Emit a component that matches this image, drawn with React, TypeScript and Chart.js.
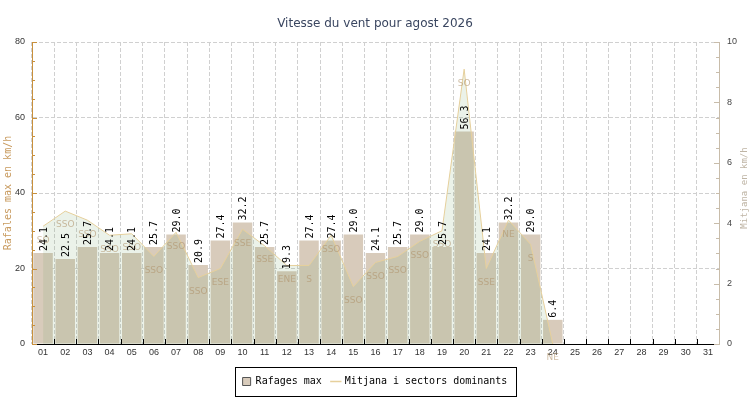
import React, { useEffect, useRef } from 'react';
import { Chart, registerables } from 'chart.js';

Chart.register(...registerables);

const titleText = 'Vitesse du vent pour agost 2026';
const gustLabel = 'Rafages max';
const meanLabel = 'Mitjana i sectors dominants';
const leftAxisTitle = 'Rafales max en km/h';
const rightAxisTitle = 'Mitjana en km/h';

const days = [
  '01', '02', '03', '04', '05', '06', '07', '08', '09', '10',
  '11', '12', '13', '14', '15', '16', '17', '18', '19', '20',
  '21', '22', '23', '24', '25', '26', '27', '28', '29', '30', '31',
];

const gustValues: (number | null)[] = [
  24.1, 22.5, 25.7, 24.1, 24.1, 25.7, 29.0, 20.9, 27.4, 32.2,
  25.7, 19.3, 27.4, 27.4, 29.0, 24.1, 25.7, 29.0, 25.7, 56.3,
  24.1, 32.2, 29.0, 6.4, null, null, null, null, null, null, null,
];

const meanValues: (number | null)[] = [
  3.9, 4.4, 4.1, 3.6, 3.65, 2.9, 3.7, 2.2, 2.5, 3.8,
  3.25, 2.6, 2.6, 3.6, 1.9, 2.7, 2.9, 3.4, 3.75, 9.1,
  2.5, 4.1, 3.3, 0, null, null, null, null, null, null, null,
];

const directions: (string | null)[] = [
  'SO', 'SSO', 'SSO', 'SSO', 'SSO', 'SSO', 'SSO', 'SSO', 'ESE', 'SSE',
  'SSE', 'ENE', 'S', 'SSO', 'SSO', 'SSO', 'SSO', 'SSO', 'SSO', 'SO',
  'SSE', 'NE', 'S', 'NE', null, null, null, null, null, null, null,
];

const leftMax = 80;
const leftStep = 20;
const leftMinorStep = 5;
const rightMax = 10;
const rightStep = 2;
const rightMinorStep = 0.5;

const BAR_COLOR = '#d8cbbb';
const AREA_FILL = 'rgba(120,170,110,0.15)';
const AREA_LINE = '#e6d09c';
const LEFT_AXIS_COLOR = '#c8903c';
const LEFT_TITLE_COLOR = '#c89a5e';
const RIGHT_AXIS_COLOR = '#c8bcaa';
const RIGHT_TITLE_COLOR = '#bfb5a5';
const GRID_COLOR = '#d0d0d0';

const decorPlugin = {
  id: 'decor',
  afterDatasetsDraw(chart: any) {
    const ctx = chart.ctx;
    ctx.save();
    // direction labels under the mean line points
    const lineMeta = chart.getDatasetMeta(1);
    ctx.font = '9px "DejaVu Sans"';
    ctx.fillStyle = 'rgba(175,145,105,0.6)';
    ctx.textAlign = 'center';
    ctx.textBaseline = 'middle';
    lineMeta.data.forEach((pt: any, i: number) => {
      const d = directions[i];
      if (!d || meanValues[i] == null) return;
      ctx.fillText(d, pt.x, pt.y + 14);
    });
    // rotated value labels above bars
    const barMeta = chart.getDatasetMeta(0);
    ctx.font = '10px "DejaVu Sans Mono"';
    ctx.fillStyle = '#000';
    ctx.textAlign = 'left';
    ctx.textBaseline = 'middle';
    barMeta.data.forEach((bar: any, i: number) => {
      const v = gustValues[i];
      if (v == null) return;
      ctx.save();
      ctx.translate(bar.x + 1, bar.y - 2);
      ctx.rotate(-Math.PI / 2);
      ctx.fillText(v.toFixed(1), 0, 0);
      ctx.restore();
    });
    ctx.restore();
  },
  afterDraw(chart: any) {
    const ctx = chart.ctx;
    const area = chart.chartArea;
    const x = chart.scales.x;
    const y = chart.scales.y;
    const y1 = chart.scales.y1;
    ctx.save();
    ctx.lineWidth = 1;
    // left axis inward ticks
    ctx.strokeStyle = LEFT_AXIS_COLOR;
    for (let v = 0; v <= leftMax; v += leftMinorStep) {
      const py = Math.round(y.getPixelForValue(v)) + 0.5;
      const len = v % leftStep === 0 ? 5 : 3;
      ctx.beginPath();
      ctx.moveTo(area.left, py);
      ctx.lineTo(area.left + len, py);
      ctx.stroke();
    }
    // right axis inward ticks
    ctx.strokeStyle = RIGHT_AXIS_COLOR;
    for (let v = 0; v <= rightMax + 1e-9; v += rightMinorStep) {
      const py = Math.round(y1.getPixelForValue(v)) + 0.5;
      const len = Math.abs(v % rightStep) < 1e-9 ? 5 : 3;
      ctx.beginPath();
      ctx.moveTo(area.right, py);
      ctx.lineTo(area.right - len, py);
      ctx.stroke();
    }
    // x axis inward ticks at category boundaries
    ctx.strokeStyle = '#000';
    for (let i = 1; i < days.length; i++) {
      const bx = Math.round((x.getPixelForValue(i - 1) + x.getPixelForValue(i)) / 2) + 0.5;
      ctx.beginPath();
      ctx.moveTo(bx, area.bottom);
      ctx.lineTo(bx, area.bottom - 5);
      ctx.stroke();
    }
    // right axis title, reading upward
    ctx.font = '9px "DejaVu Sans Mono"';
    ctx.fillStyle = RIGHT_TITLE_COLOR;
    ctx.textAlign = 'center';
    ctx.textBaseline = 'middle';
    ctx.translate(745, (area.top + area.bottom) / 2 - 5);
    ctx.rotate(-Math.PI / 2);
    ctx.fillText(rightAxisTitle, 0, 0);
    ctx.restore();

    // legend frame
    const lg = chart.legend;
    if (lg && lg.legendHitBoxes && lg.legendHitBoxes.length) {
      let minX = Infinity, maxX = -Infinity, minY = Infinity, maxY = -Infinity;
      lg.legendHitBoxes.forEach((b: any) => {
        minX = Math.min(minX, b.left);
        maxX = Math.max(maxX, b.left + b.width);
        minY = Math.min(minY, b.top);
        maxY = Math.max(maxY, b.top + b.height);
      });
      ctx.save();
      ctx.strokeStyle = '#000';
      ctx.lineWidth = 1;
      const l = Math.round(minX - 8) + 0.5;
      const r = Math.round(maxX + 9) + 0.5;
      const t = Math.round(minY - 9.5) + 0.5;
      const b = Math.round(maxY + 9.5) + 0.5;
      ctx.strokeRect(l, t, r - l, b - t);
      ctx.restore();
    }
  },
};

export default function App() {
  const canvasRef = useRef<HTMLCanvasElement | null>(null);

  useEffect(() => {
    const canvas = canvasRef.current;
    if (!canvas) return;
    const chart = new Chart(canvas, {
      type: 'bar',
      data: {
        labels: days,
        datasets: [
          {
            type: 'bar',
            label: gustLabel,
            data: gustValues,
            backgroundColor: BAR_COLOR,
            borderWidth: 0,
            yAxisID: 'y',
            order: 1,
            barPercentage: 0.88,
            categoryPercentage: 1,
          } as any,
          {
            type: 'line',
            label: meanLabel,
            data: meanValues,
            backgroundColor: AREA_FILL,
            borderColor: AREA_LINE,
            borderWidth: 1,
            pointRadius: 0,
            fill: 'origin',
            tension: 0,
            yAxisID: 'y1',
            order: 0,
          } as any,
        ],
      },
      options: {
        responsive: false,
        animation: false,
        devicePixelRatio: 1,
        layout: { padding: { top: 0, bottom: 3.5, left: 0, right: 0 }, autoPadding: false } as any,
        plugins: {
          title: {
            display: true,
            text: titleText,
            color: '#3a4660',
            font: { family: '"DejaVu Sans"', size: 12, weight: 'normal' },
            padding: { top: 17, bottom: 10.6 },
          },
          legend: {
            display: true,
            position: 'bottom',
            labels: {
              font: { family: '"DejaVu Sans Mono"', size: 10 },
              color: '#000',
              usePointStyle: true,
              boxWidth: 8,
              boxHeight: 8,
              padding: 10,
              sort: (a: any, b: any) => a.datasetIndex - b.datasetIndex,
              generateLabels: (chart: any) =>
                chart.data.datasets.map((ds: any, i: number) => ({
                  text: ds.label,
                  datasetIndex: i,
                  fillStyle: i === 0 ? BAR_COLOR : AREA_LINE,
                  strokeStyle: i === 0 ? '#555' : AREA_LINE,
                  lineWidth: i === 0 ? 1 : 1.5,
                  pointStyle: i === 0 ? 'rect' : 'line',
                  fontColor: '#000',
                  hidden: false,
                })),
            },
          },
          tooltip: { enabled: false },
        },
        scales: {
          x: {
            type: 'category',
            z: 1,
            offset: true,
            grid: { display: true, offset: true, color: GRID_COLOR, drawTicks: false },
            border: { display: true, color: '#000', width: 1, dash: [4, 2] },
            ticks: {
              color: '#333',
              font: { family: '"Liberation Sans"', size: 9 },
              padding: 3,
              maxRotation: 0,
              autoSkip: false,
            },
            afterFit: (s: any) => { s.height = 22.5; },
          },
          y: {
            type: 'linear',
            position: 'left',
            z: 1,
            min: 0,
            max: leftMax,
            ticks: {
              stepSize: leftStep,
              color: '#333',
              font: { family: '"Liberation Sans"', size: 9 },
              padding: 7,
            },
            grid: { display: true, color: GRID_COLOR, drawTicks: false },
            border: { display: true, color: LEFT_AXIS_COLOR, width: 1, dash: [4, 2] },
            title: {
              display: true,
              text: leftAxisTitle,
              color: LEFT_TITLE_COLOR,
              font: { family: '"DejaVu Sans Mono"', size: 10 },
              padding: { top: 2, bottom: 0 },
            },
            afterFit: (s: any) => { s.width = 32; },
          },
          y1: {
            type: 'linear',
            position: 'right',
            z: 1,
            min: 0,
            max: rightMax,
            ticks: {
              stepSize: rightStep,
              color: '#444',
              font: { family: '"Liberation Sans"', size: 9 },
              padding: 8,
            },
            grid: { display: true, drawOnChartArea: false, drawTicks: false },
            border: { display: true, color: RIGHT_AXIS_COLOR, width: 1 },
            afterFit: (s: any) => { s.width = 31; },
          },
        },
      } as any,
      plugins: [decorPlugin],
    });
    return () => chart.destroy();
  }, []);

  return (
    <div style={{ position: 'absolute', left: 0, top: 0, width: 750, height: 400, background: '#fff' }}>
      <canvas ref={canvasRef} width={750} height={400} style={{ display: 'block' }} />
    </div>
  );
}
